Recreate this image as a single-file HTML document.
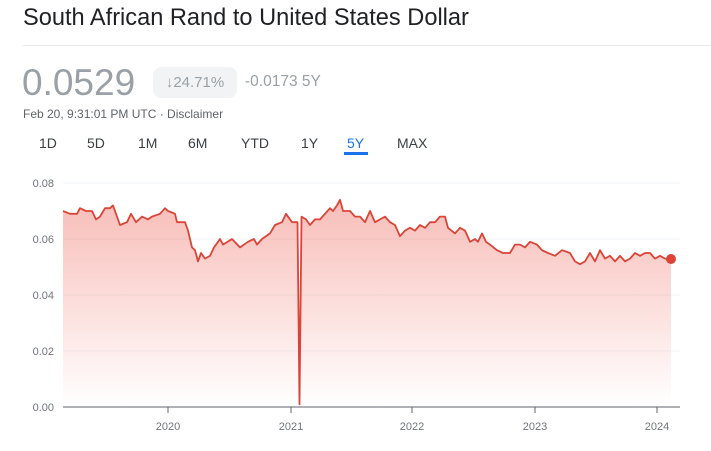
<!DOCTYPE html>
<html><head><meta charset="utf-8"><style>
body{margin:0;width:711px;height:451px;background:#fff;font-family:"Liberation Sans",Arial,sans-serif;overflow:hidden;position:relative}
.t{position:absolute;left:23px;top:5px;font-size:23.6px;color:#202124}
.hr{position:absolute;left:23px;top:45px;width:688px;height:1px;background:#e8eaed}
.p{position:absolute;left:22px;top:62px;font-size:37px;color:#9aa0a6}
.chip{position:absolute;left:153px;top:67px;width:84px;height:31px;background:#f1f3f4;border-radius:8px;font-size:15px;color:#9aa0a6;line-height:31px;text-align:center}
.ch{position:absolute;left:245px;top:73px;font-size:15.5px;color:#9aa0a6}
.d{position:absolute;left:23px;top:107px;font-size:12px;color:#5f6368}
.tab{position:absolute;top:135px;font-size:14px;color:#3c4043}
svg{position:absolute;left:0;top:0}
</style></head><body>
<div class="t">South African Rand to United States Dollar</div>
<div class="hr"></div>
<div class="p">0.0529</div>
<div class="chip">↓24.71%</div>
<div class="ch">-0.0173 5Y</div>
<div class="d">Feb 20, 9:31:01 PM UTC · Disclaimer</div>
<div class="tab" style="left:39px">1D</div>
<div class="tab" style="left:87px">5D</div>
<div class="tab" style="left:138px">1M</div>
<div class="tab" style="left:188px">6M</div>
<div class="tab" style="left:241px">YTD</div>
<div class="tab" style="left:301px">1Y</div>
<div class="tab" style="left:347px;color:#1a73e8">5Y</div>
<div class="tab" style="left:397px">MAX</div>
<div style="position:absolute;left:344px;top:152px;width:24px;height:3px;background:#1a73e8"></div>
<svg width="711" height="451" id="s">
<defs><linearGradient id="g" x1="0" y1="0" x2="0" y2="1"><stop offset="0" stop-color="#ea4335" stop-opacity="0.35"/><stop offset="1" stop-color="#ea4335" stop-opacity="0"/></linearGradient></defs>
<g stroke="#f1f3f4" stroke-width="1">
<line x1="63" y1="183" x2="680" y2="183"/><line x1="63" y1="239" x2="680" y2="239"/><line x1="63" y1="295" x2="680" y2="295"/><line x1="63" y1="351" x2="680" y2="351"/></g>
<g font-size="11" fill="#70757a" text-anchor="end">
<text x="54" y="187">0.08</text><text x="54" y="243">0.06</text><text x="54" y="299">0.04</text><text x="54" y="355">0.02</text><text x="54" y="411">0.00</text></g>
<path id="area" fill="url(#g)"/>
<path id="line" fill="none" stroke="#db4437" stroke-width="1.8" stroke-linejoin="round"/>
<line x1="63" y1="407" x2="680" y2="407" stroke="#5f6368" stroke-width="1"/>
<g stroke="#5f6368"><line x1="168" y1="407" x2="168" y2="413"/><line x1="291" y1="407" x2="291" y2="413"/><line x1="412" y1="407" x2="412" y2="413"/><line x1="535" y1="407" x2="535" y2="413"/><line x1="657" y1="407" x2="657" y2="413"/></g>
<g font-size="11" fill="#70757a" text-anchor="middle">
<text x="168" y="430">2020</text><text x="291" y="430">2021</text><text x="412" y="430">2022</text><text x="535" y="430">2023</text><text x="657" y="430">2024</text></g>
<circle cx="671" cy="259" r="5" fill="#db4437"/>
</svg>
<script>
var d=[[63,.070],[70,.069],[77,.069],[80,.071],[86,.070],[92,.070],[96,.067],[100,.068],[105,.071],[110,.071],[113,.072],[120,.065],[127,.066],[131,.069],[136,.066],[142,.068],[148,.067],[152,.068],[160,.069],[165,.071],[168,.070],[175,.069],[177,.066],[185,.066],[188,.063],[192,.057],[195,.056],[198,.052],[201,.055],[205,.053],[210,.054],[214,.057],[220,.060],[223,.058],[232,.060],[240,.057],[248,.059],[254,.060],[257,.058],[262,.060],[270,.062],[275,.065],[282,.066],[286,.069],[292,.066],[297.5,.066],[299.5,.001],[301.5,.068],[306,.067],[310,.065],[315,.067],[320,.067],[325,.069],[330,.071],[333,.070],[337,.072],[340,.074],[343,.070],[350,.070],[355,.068],[360,.068],[365,.066],[370,.070],[375,.066],[380,.067],[385,.068],[390,.066],[395,.065],[400,.061],[405,.063],[410,.064],[415,.063],[420,.065],[425,.064],[430,.066],[435,.066],[440,.068],[445,.068],[448,.064],[455,.062],[460,.064],[465,.063],[470,.059],[475,.060],[478,.059],[482,.062],[486,.059],[490,.058],[497,.056],[503,.055],[510,.055],[515,.058],[520,.058],[525,.057],[530,.059],[537,.058],[542,.056],[548,.055],[555,.054],[562,.056],[570,.055],[575,.052],[580,.051],[585,.052],[590,.055],[595,.052],[600,.056],[605,.053],[610,.054],[615,.052],[620,.054],[625,.052],[630,.053],[635,.055],[640,.054],[645,.055],[650,.055],[655,.053],[660,.054],[665,.053],[671,.0529]];
var p=d.map(function(a,i){return (i?'L':'M')+a[0]+' '+(407-a[1]*2800).toFixed(1)}).join(' ');
document.getElementById('line').setAttribute('d',p);
document.getElementById('area').setAttribute('d',p+' L671 407 L63 407 Z');
</script>
</body></html>
